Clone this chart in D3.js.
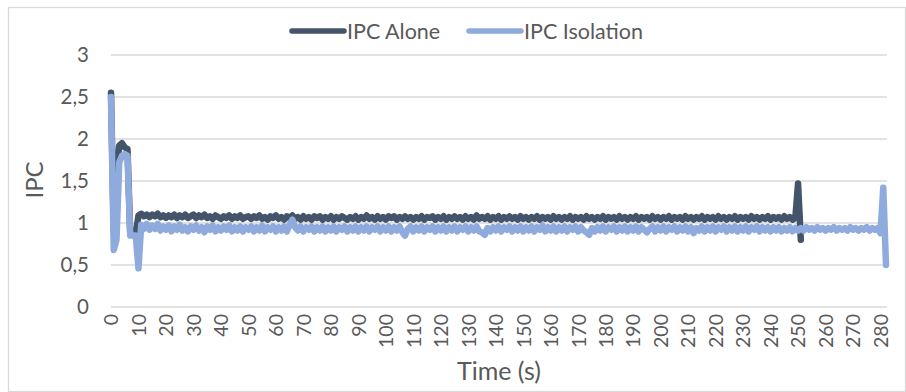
<!DOCTYPE html>
<html>
<head>
<meta charset="utf-8">
<script src="https://cdn.jsdelivr.net/npm/d3@7"></script>
<style>
  html, body { margin: 0; padding: 0; background: #fff; }
  svg { display: block; font-family: Lato, "Open Sans", sans-serif; }
</style>
</head>
<body>
<figure id="chart" style="margin:0"></figure>
<script>
// x categories (seconds) and tick labels
const xTicks = d3.range(0, 281, 10);
const yTicks = [0, 0.5, 1, 1.5, 2, 2.5, 3];
const yTickLabels = ["0", "0,5", "1", "1,5", "2", "2,5", "3"];
const seriesNames = ["IPC Alone", "IPC Isolation"];

// IPC Alone, one value per second (0..251)
const ipcAlone = [
  2.55, 0.9, 1.63, 1.92, 1.95, 1.9, 1.88, 0.87, 0.87, 0.87,
  1.09, 1.11, 1.08, 1.1, 1.07, 1.1, 1.08, 1.11, 1.07, 1.09,
  1.06, 1.09, 1.07, 1.1, 1.06, 1.09, 1.07, 1.1, 1.06, 1.08,
  1.1, 1.06, 1.09, 1.07, 1.1, 1.06, 1.08, 1.05, 1.09, 1.07,
  1.05, 1.08, 1.06, 1.09, 1.05, 1.08, 1.06, 1.09, 1.05, 1.07,
  1.08, 1.05, 1.08, 1.06, 1.09, 1.05, 1.07, 1.04, 1.08, 1.06,
  1.09, 1.05, 1.07, 1.04, 1.08, 1.06, 1.09, 1.05, 1.07, 1.04,
  1.08, 1.05, 1.07, 1.04, 1.08, 1.06, 1.08, 1.04, 1.07, 1.05,
  1.08, 1.04, 1.07, 1.05, 1.08, 1.06, 1.04, 1.07, 1.05, 1.08,
  1.04, 1.07, 1.05, 1.09, 1.05, 1.07, 1.04, 1.08, 1.05, 1.07,
  1.04, 1.08, 1.06, 1.08, 1.04, 1.07, 1.05, 1.08, 1.05, 1.07,
  1.04, 1.07, 1.05, 1.08, 1.04, 1.07, 1.06, 1.08, 1.04, 1.07,
  1.05, 1.08, 1.04, 1.07, 1.05, 1.08, 1.05, 1.07, 1.04, 1.08,
  1.05, 1.07, 1.04, 1.09, 1.05, 1.07, 1.05, 1.08, 1.04, 1.07,
  1.05, 1.08, 1.04, 1.07, 1.05, 1.08, 1.05, 1.07, 1.04, 1.08,
  1.05, 1.07, 1.04, 1.07, 1.05, 1.08, 1.04, 1.07, 1.05, 1.07,
  1.04, 1.08, 1.05, 1.07, 1.04, 1.07, 1.05, 1.08, 1.04, 1.07,
  1.05, 1.07, 1.04, 1.08, 1.05, 1.07, 1.04, 1.07, 1.05, 1.08,
  1.04, 1.07, 1.05, 1.07, 1.04, 1.08, 1.05, 1.07, 1.04, 1.07,
  1.05, 1.08, 1.04, 1.07, 1.05, 1.07, 1.04, 1.08, 1.05, 1.07,
  1.04, 1.07, 1.05, 1.08, 1.04, 1.07, 1.05, 1.07, 1.04, 1.08,
  1.05, 1.07, 1.04, 1.07, 1.05, 1.08, 1.04, 1.07, 1.05, 1.07,
  1.04, 1.08, 1.05, 1.07, 1.04, 1.07, 1.05, 1.08, 1.04, 1.07,
  1.05, 1.07, 1.04, 1.08, 1.05, 1.07, 1.04, 1.07, 1.05, 1.08,
  1.04, 1.07, 1.05, 1.07, 1.04, 1.08, 1.05, 1.07, 1.04, 1.06,
  1.47, 0.8
];

// IPC Isolation, one value per second (0..282)
const ipcIsolation = [
  2.5, 0.68, 0.8, 1.72, 1.8, 1.82, 1.8, 0.85, 0.85, 0.85,
  0.46, 0.98, 0.93, 0.99, 0.92, 0.97, 0.93, 0.99, 0.91, 0.96,
  0.92, 0.97, 0.9, 0.96, 0.92, 0.98, 0.91, 0.95, 0.9, 0.96,
  0.92, 0.97, 0.91, 0.95, 0.89, 0.96, 0.92, 0.97, 0.9, 0.95,
  0.91, 0.96, 0.92, 0.97, 0.9, 0.95, 0.91, 0.96, 0.9, 0.95,
  0.92, 0.96, 0.9, 0.95, 0.91, 0.97, 0.9, 0.95, 0.92, 0.96,
  0.9, 0.95, 0.91, 0.96, 0.9, 0.98, 1.04, 0.95, 0.91, 0.96,
  0.9, 0.95, 0.92, 0.96, 0.9, 0.95, 0.91, 0.96, 0.9, 0.95,
  0.91, 0.96, 0.9, 0.95, 0.92, 0.96, 0.9, 0.95, 0.91, 0.96,
  0.9, 0.95, 0.91, 0.96, 0.9, 0.95, 0.92, 0.96, 0.9, 0.95,
  0.91, 0.96, 0.9, 0.95, 0.91, 0.96, 0.89, 0.85, 0.93, 0.96,
  0.9, 0.95, 0.91, 0.96, 0.9, 0.95, 0.92, 0.96, 0.9, 0.95,
  0.91, 0.96, 0.9, 0.95, 0.91, 0.96, 0.9, 0.95, 0.92, 0.96,
  0.9, 0.95, 0.91, 0.96, 0.9, 0.89, 0.86, 0.94, 0.9, 0.95,
  0.91, 0.96, 0.9, 0.95, 0.92, 0.96, 0.9, 0.95, 0.91, 0.96,
  0.9, 0.95, 0.91, 0.96, 0.9, 0.95, 0.92, 0.97, 0.9, 0.95,
  0.91, 0.96, 0.9, 0.95, 0.91, 0.96, 0.9, 0.95, 0.92, 0.96,
  0.9, 0.95, 0.91, 0.89, 0.86, 0.94, 0.9, 0.95, 0.91, 0.96,
  0.9, 0.95, 0.92, 0.96, 0.9, 0.95, 0.91, 0.96, 0.9, 0.95,
  0.91, 0.96, 0.9, 0.95, 0.92, 0.89, 0.93, 0.96, 0.9, 0.95,
  0.91, 0.96, 0.9, 0.95, 0.92, 0.96, 0.9, 0.95, 0.91, 0.96,
  0.9, 0.95, 0.88, 0.94, 0.91, 0.96, 0.9, 0.95, 0.91, 0.96,
  0.9, 0.95, 0.92, 0.96, 0.9, 0.95, 0.91, 0.96, 0.9, 0.95,
  0.91, 0.96, 0.9, 0.95, 0.92, 0.96, 0.9, 0.95, 0.91, 0.95,
  0.9, 0.95, 0.91, 0.95, 0.9, 0.94, 0.91, 0.95, 0.9, 0.94,
  0.91, 0.94, 0.91, 0.95, 0.92, 0.94, 0.91, 0.95, 0.92, 0.94,
  0.91, 0.94, 0.92, 0.95, 0.91, 0.94, 0.92, 0.94, 0.91, 0.95,
  0.92, 0.94, 0.91, 0.94, 0.92, 0.95, 0.91, 0.94, 0.92, 0.94,
  0.88, 1.42, 0.5
];

const colors = ["#44546a", "#8faadc"];

const width = 906, height = 392;
const plot = { left: 111, right: 886, top: 55, bottom: 307 };

const svg = d3.select("#chart")
  .append("svg")
  .attr("width", width)
  .attr("height", height);

// chart border
svg.append("rect")
  .attr("x", 8.5).attr("y", 7.5)
  .attr("width", 897).attr("height", 384)
  .attr("fill", "none")
  .attr("stroke", "#d9d9d9")
  .attr("stroke-width", 1.3);

const x = d3.scaleLinear().domain([0, 282]).range([plot.left, plot.right]);
const y = d3.scaleLinear().domain([0, 3]).range([plot.bottom, plot.top]);

// gridlines
svg.append("g")
  .selectAll("line")
  .data(yTicks)
  .enter()
  .append("line")
  .attr("x1", plot.left).attr("x2", plot.right + 1)
  .attr("y1", d => y(d)).attr("y2", d => y(d))
  .attr("stroke", "#d9d9d9")
  .attr("stroke-width", 1.5);

// y axis labels
const yAxis = d3.axisLeft(y)
  .tickValues(yTicks)
  .tickSize(0)
  .tickPadding(0)
  .tickFormat((d, i) => yTickLabels[i]);

svg.append("g")
  .attr("transform", "translate(89,0)")
  .call(yAxis)
  .call(g => g.select(".domain").remove())
  .selectAll("text")
  .attr("font-family", "Lato, sans-serif")
  .attr("font-size", 20.5)
  .attr("fill", "#595959");

// x axis labels, rotated
const xAxis = d3.axisBottom(x)
  .tickValues(xTicks)
  .tickSize(0)
  .tickPadding(0)
  .tickFormat(d3.format("d"));

svg.append("g")
  .attr("transform", "translate(0," + 314 + ")")
  .call(xAxis)
  .call(g => g.select(".domain").remove())
  .selectAll("text")
  .attr("font-family", "Lato, sans-serif")
  .attr("font-size", 19.5)
  .attr("fill", "#595959")
  .attr("y", 0)
  .attr("x", 0)
  .attr("dy", "0.35em")
  .attr("transform", "rotate(-90)")
  .style("text-anchor", "end");

// series lines
const line = d3.line()
  .x((d, i) => x(i))
  .y(d => y(d));

[ipcAlone, ipcIsolation].forEach((vals, k) => {
  svg.append("path")
    .datum(vals)
    .attr("d", line)
    .attr("fill", "none")
    .attr("stroke", colors[k])
    .attr("stroke-width", 6.5)
    .attr("stroke-linejoin", "round")
    .attr("stroke-linecap", "round");
});

// axis titles
svg.append("text")
  .attr("x", 499)
  .attr("y", 380)
  .attr("text-anchor", "middle")
  .attr("font-size", 25)
  .attr("fill", "#595959")
  .text("Time (s)");

svg.append("text")
  .attr("transform", "translate(43,180) rotate(-90)")
  .attr("text-anchor", "middle")
  .attr("font-size", 24)
  .attr("fill", "#595959")
  .text("IPC");

// legend
const legendX = [290, 467];
seriesNames.forEach((name, k) => {
  const g = svg.append("g").attr("transform", "translate(" + legendX[k] + ",31)");
  g.append("line")
    .attr("x1", 2).attr("x2", 54)
    .attr("y1", 0).attr("y2", 0)
    .attr("stroke", colors[k])
    .attr("stroke-width", 5.5)
    .attr("stroke-linecap", "round");
  g.append("text")
    .attr("x", 57)
    .attr("y", 7.5)
    .attr("font-size", 21.5)
    .attr("fill", "#595959")
    .text(name);
});
</script>
</body>
</html>
